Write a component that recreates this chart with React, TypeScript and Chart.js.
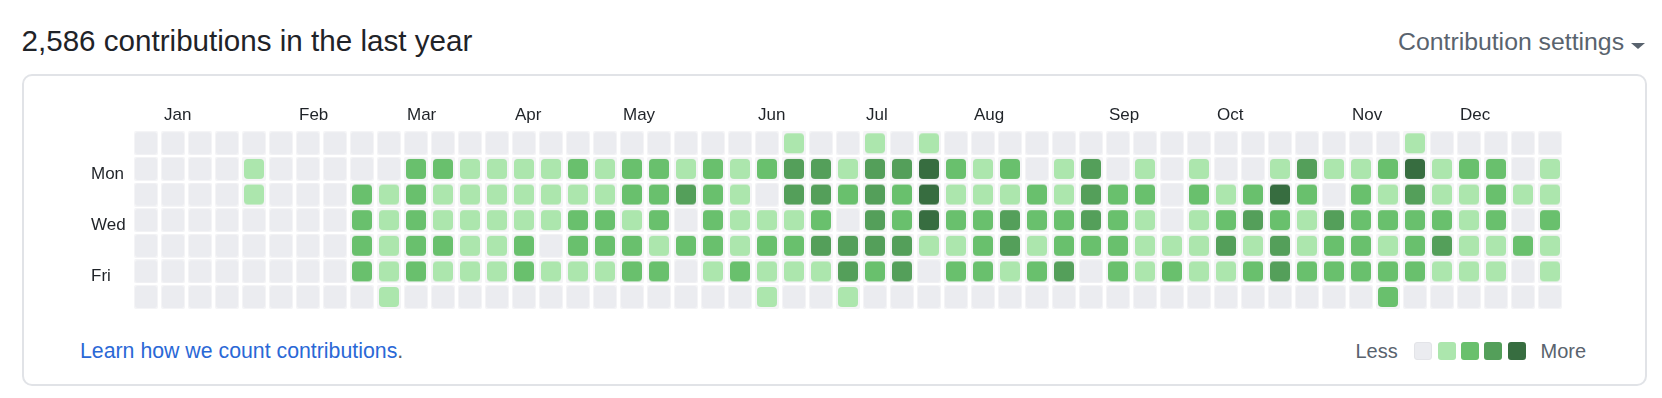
import { useEffect, useRef } from 'react';
import { Chart, registerables } from 'chart.js';

Chart.register(...registerables);

const TITLE = '2,586 contributions in the last year';
const MONTHS = ['Jan', 'Feb', 'Mar', 'Apr', 'May', 'Jun', 'Jul', 'Aug', 'Sep', 'Oct', 'Nov', 'Dec'];
const MONTH_START_WEEK = [1, 6, 10, 14, 18, 23, 27, 31, 36, 40, 45, 49];
const DAY_LABELS = ['', 'Mon', '', 'Wed', '', 'Fri', ''];
const DAY_TICKS = [1, 3, 5];

// contribution level (0-4) per week, one array per weekday row
const SUN = [0,0,0,0,0,0,0,0,0,0, 0,0,0,0,0,0,0,0,0,0, 0,0,0,0,1,0,0,1,0,1, 0,0,0,0,0,0,0,0,0,0, 0,0,0,0,0,0,0,1,0,0, 0,0,0];
const MON = [0,0,0,0,1,0,0,0,0,0, 2,2,1,1,1,1,2,1,2,2, 1,2,1,2,3,3,1,3,3,4, 2,1,2,0,1,3,0,1,0,1, 0,0,1,3,1,1,2,4,1,2, 2,0,1];
const TUE = [0,0,0,0,1,0,0,0,2,1, 2,1,1,1,1,1,1,1,2,2, 3,2,1,0,3,3,2,3,2,4, 1,1,1,2,1,3,2,2,0,2, 1,2,4,2,0,2,1,3,1,1, 2,1,1];
const WED = [0,0,0,0,0,0,0,0,2,1, 2,1,1,1,1,1,2,2,1,2, 0,2,1,1,1,2,0,3,2,4, 2,2,3,2,2,3,2,1,0,1, 2,3,2,1,3,2,2,2,2,1, 2,0,2];
const THU = [0,0,0,0,0,0,0,0,2,1, 2,2,1,1,2,0,2,2,2,1, 2,2,1,2,2,3,3,3,3,1, 1,2,3,1,2,2,2,1,1,1, 3,1,3,1,2,2,1,2,3,1, 1,2,1];
const FRI = [0,0,0,0,0,0,0,0,2,1, 2,1,1,1,2,1,1,1,2,2, 0,1,2,1,1,1,3,2,3,0, 2,2,1,2,3,0,2,1,2,1, 1,2,3,2,2,2,2,2,1,1, 1,0,1];
const SAT = [0,0,0,0,0,0,0,0,0,1, 0,0,0,0,0,0,0,0,0,0, 0,0,0,1,0,0,1,0,0,0, 0,0,0,0,0,0,0,0,0,0, 0,0,0,0,0,0,2,0,0,0, 0,0,0];
const ROWS = [SUN, MON, TUE, WED, THU, FRI, SAT];

const LEVEL_COLORS = ['#ebecf0', '#ace6ad', '#69c06d', '#549f5a', '#376d40'];
const FONT = "'Liberation Sans', Arial, Helvetica, sans-serif";

function rr(ctx: CanvasRenderingContext2D, x: number, y: number, w: number, h: number, r: number) {
  ctx.beginPath();
  ctx.moveTo(x + r, y);
  ctx.lineTo(x + w - r, y);
  ctx.arcTo(x + w, y, x + w, y + r, r);
  ctx.lineTo(x + w, y + h - r);
  ctx.arcTo(x + w, y + h, x + w - r, y + h, r);
  ctx.lineTo(x + r, y + h);
  ctx.arcTo(x, y + h, x, y + h - r, r);
  ctx.lineTo(x, y + r);
  ctx.arcTo(x, y, x + r, y, r);
  ctx.closePath();
}

function makeCell(color: string, level: number) {
  const c = document.createElement('canvas');
  c.width = 24;
  c.height = 24;
  const ctx = c.getContext('2d')!;
  ctx.fillStyle = '#f4f4f6';
  rr(ctx, 0, 0, 24, 24, 2);
  ctx.fill();
  ctx.fillStyle = color;
  if (level === 0) rr(ctx, 1, 1, 22, 22, 3);
  else rr(ctx, 2, 2, 20, 20, 4);
  ctx.fill();
  return c;
}

export default function App() {
  const ref = useRef<HTMLCanvasElement | null>(null);

  useEffect(() => {
    if (!ref.current) return;
    const images = LEVEL_COLORS.map((c, i) => makeCell(c, i));
    const points: { x: number; y: number; level: number }[] = [];
    ROWS.forEach((row, day) => row.forEach((level, week) => points.push({ x: week, y: day, level })));
    const weeks = SUN.length;
    const chart = new Chart(ref.current, {
      type: 'scatter',
      data: {
        datasets: [
          {
            data: points,
            pointStyle: (ctx: any) => images[(ctx.raw && ctx.raw.level) || 0],
            pointRadius: 12,
            pointHoverRadius: 12,
            clip: false,
          } as any,
        ],
      },
      options: {
        responsive: false,
        animation: false,
        events: [],
        layout: { padding: { left: 0, top: 0, right: 0.5, bottom: 0.5 }, autoPadding: false },
        plugins: { legend: { display: false }, tooltip: { enabled: false } },
        scales: {
          x: {
            type: 'linear',
            position: 'top',
            min: -0.5,
            max: weeks - 0.5,
            grid: { display: false, drawTicks: false },
            border: { display: false },
            afterBuildTicks: (s: any) => {
              s.ticks = MONTH_START_WEEK.map((v) => ({ value: v }));
            },
            afterFit: (s: any) => {
              s.height = 35.5;
            },
            ticks: {
              autoSkip: false,
              maxRotation: 0,
              align: 'start',
              labelOffset: -9,
              padding: 5,
              color: '#1f2328',
              font: { family: FONT, size: 17 },
              callback: (v: any) => {
                const i = MONTH_START_WEEK.indexOf(Number(v));
                return i >= 0 ? MONTHS[i] : '';
              },
            },
          },
          y: {
            type: 'linear',
            reverse: true,
            min: -0.5,
            max: DAY_LABELS.length - 0.5,
            grid: { display: false, drawTicks: false },
            border: { display: false },
            afterBuildTicks: (s: any) => {
              s.ticks = DAY_TICKS.map((v) => ({ value: v }));
            },
            afterFit: (s: any) => {
              s.width = 41.5;
            },
            ticks: {
              autoSkip: false,
              crossAlign: 'far',
              labelOffset: 5,
              padding: 0,
              color: '#1f2328',
              font: { family: FONT, size: 17 },
              callback: (v: any) => DAY_LABELS[Number(v)] ?? '',
            },
          },
        },
      } as any,
    });
    return () => chart.destroy();
  }, []);

  const abs = (o: any) => ({ position: 'absolute', whiteSpace: 'nowrap', lineHeight: 1, ...o }) as any;

  return (
    <div style={{ position: 'fixed', left: 0, top: 0, width: 1662, height: 398, background: '#ffffff', fontFamily: FONT, overflow: 'hidden' }}>
      <div style={abs({ left: 21.5, top: 25.5, fontSize: 29.6, color: '#1f2328' })}>{TITLE}</div>
      <div style={abs({ left: 1398, top: 29.5, fontSize: 24.8, color: '#59636e' })}>Contribution settings</div>
      <div style={abs({ left: 1631, top: 43, width: 0, height: 0, borderLeft: '7px solid transparent', borderRight: '7px solid transparent', borderTop: '6px solid #59636e' })} />
      <div style={abs({ left: 22, top: 74, width: 1625, height: 312, border: '2px solid #e1e3e7', borderRadius: 10, boxSizing: 'border-box' })} />
      <canvas ref={ref} width={1473} height={225} style={{ position: 'absolute', left: 91, top: 95, width: 1473, height: 225 }} />
      <div style={abs({ left: 80, top: 340.5, fontSize: 21.3, color: '#2a68d6' })}>
        Learn how we count contributions<span style={{ color: '#59636e' }}>.</span>
      </div>
      <div style={abs({ left: 1355.5, top: 341, fontSize: 20, color: '#59636e' })}>Less</div>
      {LEVEL_COLORS.map((c, i) => (
        <div
          key={i}
          style={abs({
            left: [1414, 1438, 1461, 1484, 1508][i],
            top: 342,
            width: 18,
            height: 18,
            borderRadius: 3,
            background: c,
            boxSizing: 'border-box',
            border: i === 0 ? '1px solid #e3e4e8' : 'none',
          })}
        />
      ))}
      <div style={abs({ left: 1540.5, top: 341, fontSize: 20, color: '#59636e' })}>More</div>
    </div>
  );
}
